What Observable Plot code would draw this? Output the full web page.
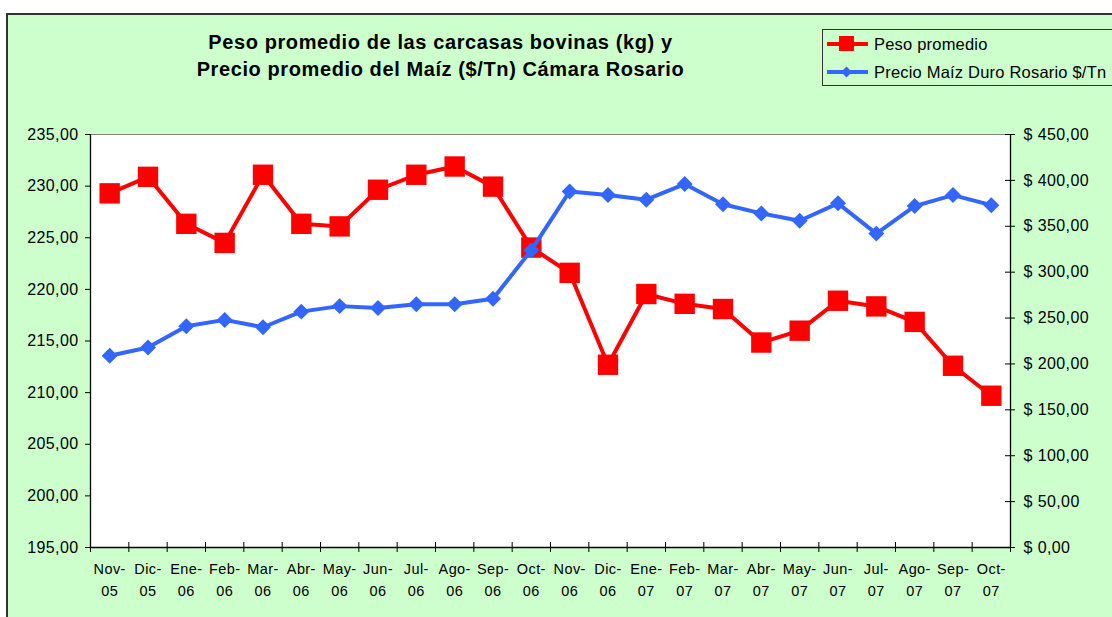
<!DOCTYPE html>
<html>
<head>
<meta charset="utf-8">
<script src="https://cdn.jsdelivr.net/npm/d3@7"></script>
<script src="https://cdn.jsdelivr.net/npm/@observablehq/plot@0.6"></script>
<style>
  html, body { margin: 0; padding: 0; background: #ffffff; }
  body { width: 1112px; height: 617px; overflow: hidden; position: relative; font-family: "Liberation Sans", Arial, sans-serif; }
  #chart { position: absolute; left: 6px; top: 13px; width: 1130px; height: 640px; background: #CCFFCC; border-left: 2px solid #333; border-top: 2px solid #333; }
  #header { position: relative; height: 104px; }
  #title { position: absolute; left: 0; top: 14px; width: 865px; text-align: center; font-weight: bold; font-size: 20px; line-height: 27px; letter-spacing: 0.6px; color: #000; }
  #legend { position: absolute; left: 814px; top: 14px; width: 330px; height: 55px; border: 1px solid #333; }
  .lg { position: absolute; left: 0; height: 28px; display: flex; align-items: center; font-size: 16.5px; letter-spacing: 0.2px; color: #000; white-space: nowrap; }
  .lg svg { margin-right: 4px; }
  #plot svg { display: block; }
</style>
</head>
<body>
<div id="chart">
  <div id="header">
    <div id="title">Peso promedio de las carcasas bovinas (kg) y<br>Precio promedio del Maíz ($/Tn) Cámara Rosario</div>
    <div id="legend"></div>
  </div>
  <div id="plot"></div>
</div>
<script>
// ---- data ----
const months = ["Nov-05","Dic-05","Ene-06","Feb-06","Mar-06","Abr-06","May-06","Jun-06","Jul-06","Ago-06","Sep-06","Oct-06",
                "Nov-06","Dic-06","Ene-07","Feb-07","Mar-07","Abr-07","May-07","Jun-07","Jul-07","Ago-07","Sep-07","Oct-07"];
const peso = [229.3, 230.9, 226.35, 224.5, 231.1, 226.35, 226.1, 229.65, 231.1, 231.9, 229.95, 224.05,
              221.6, 212.7, 219.55, 218.6, 218.1, 214.85, 216.0, 218.9, 218.35, 216.85, 212.6, 209.7];
const maiz = [209, 218, 241, 248, 240, 257, 263, 261, 265, 265, 271, 324,
              388, 384, 379, 396, 374, 364, 356, 375, 342, 372, 384, 373];
const leftTicks = [195, 200, 205, 210, 215, 220, 225, 230, 235];
const rightTicks = [0, 50, 100, 150, 200, 250, 300, 350, 400, 450];
const seriesNames = ["Peso promedio", "Precio Maíz Duro Rosario $/Tn"];
const colors = ["#FF0000", "#3366FF"];

// ---- dual axis mapping ----
const yMin = 195, yMax = 235, rMin = 0, rMax = 450;
const toLeft = v => yMin + (v - rMin) * (yMax - yMin) / (rMax - rMin);
const toRight = v => rMin + (v - yMin) * (rMax - rMin) / (yMax - yMin);
const fmt = v => v.toFixed(2).replace(".", ",");

const data = months.map((m, i) => ({
  i, pos: i + 0.5, month: m,
  top: m.split("-")[0] + "-", bottom: m.split("-")[1],
  peso: peso[i], maiz: maiz[i], maizL: toLeft(maiz[i])
}));
const boundaries = d3.range(0, months.length + 1);

const chart = Plot.plot({
  width: 1104,
  height: 498,
  marginLeft: 82,
  marginRight: 102,
  marginTop: 15,
  marginBottom: 70,
  style: { background: "transparent", fontFamily: "'Liberation Sans', Arial, sans-serif", fontSize: "16px", overflow: "visible", letterSpacing: "0.4px", color: "#000" },
  x: { domain: [0, months.length], axis: null },
  y: { domain: [yMin, yMax], axis: null },
  marks: [
    Plot.frame({ fill: "white", stroke: "#808080", strokeWidth: 1 }),
    Plot.ruleX([0, months.length], { stroke: "#000", strokeWidth: 1.3 }),
    Plot.ruleY([yMin], { stroke: "#000", strokeWidth: 1.3 }),
    // x ticks at category boundaries (crossing)
    Plot.ruleX(boundaries, { y1: yMin, y2: yMin, insetTop: -5, insetBottom: -5, stroke: "#000" }),
    // right ticks crossing
    Plot.ruleY(rightTicks.map(toLeft), { x1: months.length, x2: months.length, insetLeft: -5, insetRight: -5, stroke: "#000" }),
    Plot.axisY(leftTicks, { anchor: "left", tickSize: 5, tickPadding: 7, tickFormat: fmt, label: null, fontSize: 16 }),
    Plot.axisY(rightTicks.map(toLeft), { anchor: "right", tickSize: 0, tickPadding: 13, tickFormat: d => "$ " + fmt(Math.round(toRight(d))), label: null, fontSize: 16 }),
    // category labels
    Plot.text(data, { x: "pos", text: "top", frameAnchor: "bottom", dy: 26, fontSize: 14.5, letterSpacing: "0.2px" }),
    Plot.text(data, { x: "pos", text: "bottom", frameAnchor: "bottom", dy: 48, fontSize: 14.5 }),
    // series
    Plot.line(data, { x: "pos", y: "peso", stroke: colors[0], strokeWidth: 4 }),
    Plot.dot(data, { x: "pos", y: "peso", symbol: "square", r: 11.5, fill: colors[0], stroke: "none" }),
    Plot.line(data, { x: "pos", y: "maizL", stroke: colors[1], strokeWidth: 4 }),
    Plot.dot(data, { x: "pos", y: "maizL", symbol: "diamond2", r: 7.2, fill: colors[1], stroke: "none" })
  ]
});
document.getElementById("plot").appendChild(chart);

// ---- legend ----
const legend = document.getElementById("legend");
seriesNames.forEach((name, k) => {
  const row = document.createElement("div");
  row.className = "lg";
  row.style.top = (k * 28) + "px";
  const marker = k === 0
    ? `<rect x="16" y="6" width="15" height="15" fill="${colors[0]}"/>`
    : `<path d="M23.5 8.5 L29 14 L23.5 19.5 L18 14 Z" fill="${colors[1]}"/>`;
  row.innerHTML = `<svg width="47" height="28"><line x1="4" x2="45" y1="14" y2="14" stroke="${colors[k]}" stroke-width="4"/>${marker}</svg><span>${name}</span>`;
  legend.appendChild(row);
});
</script>
</body>
</html>
